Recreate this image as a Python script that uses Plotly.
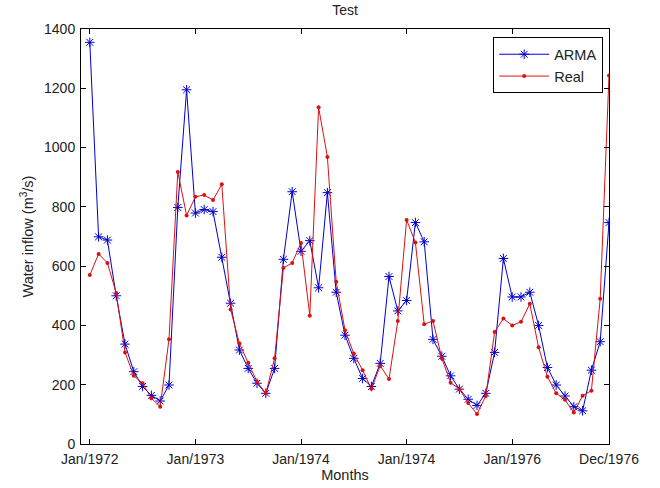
import plotly.graph_objects as go

months = list(range(1, 61))
tick_vals = [1, 13, 25, 37, 49, 60]
tick_labels = ["Jan/1972", "Jan/1973", "Jan/1974", "Jan/1974", "Jan/1976", "Dec/1976"]

arma = [1355, 699, 688, 500, 337, 244, 194, 164, 145, 199,
        798, 1195, 779, 791, 784, 630, 475, 317, 255, 205,
        171, 255, 623, 851, 650, 686, 527, 848, 512, 367,
        289, 221, 194, 272, 565, 449, 484, 747, 682, 353,
        296, 230, 185, 151, 130, 171, 309, 626, 496, 496,
        512, 400, 258, 199, 162, 126, 112, 249, 345, 747]

real = [570, 641, 611, 509, 309, 230, 205, 154, 126, 353,
        918, 771, 834, 840, 823, 876, 454, 339, 274, 210,
        171, 289, 594, 611, 678, 433, 1136, 968, 547, 384,
        305, 249, 186, 264, 219, 415, 756, 680, 404, 415,
        289, 207, 185, 138, 101, 162, 378, 423, 400, 412,
        473, 326, 227, 171, 149, 106, 163, 180, 490, 1243]

blue = "#0000d0"
red = "#dd1010"
fam = "Liberation Sans, Arial, sans-serif"

fig = go.Figure()
fig.add_trace(go.Scatter(
    x=months, y=arma, name="ARMA", mode="lines+markers",
    line=dict(color=blue, width=1),
    marker=dict(symbol="asterisk-open", size=8, color=blue, line=dict(color=blue, width=1)),
))
fig.add_trace(go.Scatter(
    x=months, y=real, name="Real", mode="lines+markers",
    line=dict(color=red, width=1),
    marker=dict(symbol="circle", size=4, color=red),
))

axis_common = dict(
    showline=True, linecolor="black", linewidth=1, mirror="allticks",
    ticks="inside", ticklen=5, tickcolor="black", showgrid=False, zeroline=False,
    automargin=False,
    tickfont=dict(family=fam, size=14, color="#222"),
)

fig.update_layout(
    width=660, height=488,
    margin=dict(l=81, r=51, t=29, b=44),
    paper_bgcolor="white", plot_bgcolor="white",
    font=dict(family=fam, size=14, color="#222"),
    title=dict(text="Test", x=0.5, xref="paper", xanchor="center", y=0.99, yanchor="top",
               font=dict(size=14)),
    xaxis=dict(range=[0, 60], tickvals=tick_vals, ticktext=tick_labels, ticklabelstandoff=2,
               title=dict(text="Months", standoff=4, font=dict(size=14.5)), **axis_common),
    yaxis=dict(range=[0, 1400], dtick=200, ticklabelstandoff=2,
               title=dict(text="Water inflow (m<sup>3</sup>/s)", standoff=6, font=dict(size=14.5)),
               **axis_common),
    legend=dict(x=0.989, y=0.98, xanchor="right", yanchor="top",
                bordercolor="black", borderwidth=1, bgcolor="white",
                font=dict(size=14.5), tracegroupgap=0, itemwidth=50),
    showlegend=True,
)

fig.write_html("out.html", config={"displayModeBar": False},
               post_script="document.body.style.margin='0';")
